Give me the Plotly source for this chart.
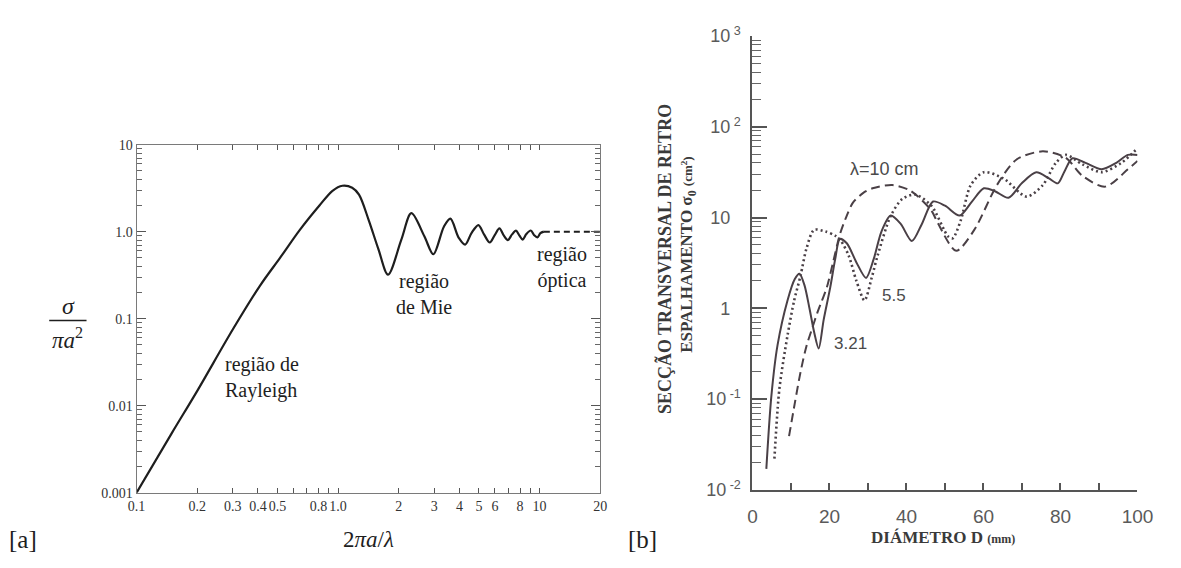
import plotly.graph_objects as go

# ---------------- (a) normalised radar cross-section of a sphere ----------------
ka = [0.1, 0.15, 0.2, 0.3, 0.41, 0.515, 0.646, 0.808, 0.938, 1.05, 1.175, 1.27,
      1.42, 1.585, 1.77, 2.06, 2.31, 2.68, 2.97, 3.35, 3.61, 3.97, 4.27, 4.6,
      4.97, 5.3, 5.66, 6.0, 6.32, 6.65, 6.96, 7.3, 7.64, 7.95, 8.24, 8.6, 9.04,
      9.4, 9.75, 10.1, 10.5]
sigma_norm = [0.001, 0.0049, 0.0148, 0.075, 0.24, 0.5, 1.05, 2.0, 2.95, 3.37,
              3.2, 2.66, 1.35, 0.63, 0.32, 0.81, 1.63, 0.885, 0.55, 1.14, 1.41,
              0.85, 0.71, 0.97, 1.19, 0.93, 0.75, 0.92, 1.09, 0.9, 0.80, 0.93,
              1.03, 0.9, 0.81, 0.94, 1.03, 0.91, 0.86, 0.96, 1.0]
ka_optical = [10.5, 20.0]
sigma_optical = [1.0, 1.0]

xa_ticks = [0.1, 0.2, 0.3, 0.4, 0.5, 0.8, 1.0, 2, 3, 4, 5, 6, 8, 10, 20]
xa_text = ["0.1", "0.2", "0.3", "0.4", "0.5", "0.8", "1.0",
           "2", "3", "4", "5", "6", "8", "10", "20"]
xa_unlabelled = [0.6, 0.7, 0.9, 7, 9]
ya_ticks = [0.001, 0.01, 0.1, 1.0, 10.0]
ya_text = ["0.001", "0.01", "0.1", "1.0", "10"]

# ---------------- (b) backscatter cross-section of raindrops ----------------
d_321 = [3.6, 4.9, 6.5, 9.1, 11.0, 12.2, 13.5, 14.8, 16.0, 17.2, 18.5, 20.2,
         21.5, 22.7, 24.5, 27.0, 29.5, 31.5, 33.5, 35.9, 38.5, 41.4, 44.0, 46.9,
         50.0, 53.8, 57.0, 60.1, 63.0, 66.5, 70.0, 73.7, 77.0, 79.3, 81.0, 83.1,
         86.5, 90.7, 94.5, 97.5, 100.0]
s_321 = [0.017, 0.107, 0.39, 1.22, 2.1, 2.4, 1.8, 1.0, 0.55, 0.36, 0.75, 1.7,
         3.5, 5.8, 5.2, 3.2, 2.16, 3.5, 7.0, 10.5, 8.5, 5.5, 8.5, 15.0,
         13.5, 10.5, 15.0, 21.0, 19.5, 16.5, 24.0, 31.5, 27.0, 23.8, 32.0, 45.0,
         40.0, 34.0, 40.0, 49.0, 49.0]

d_55 = [5.7, 7.0, 9.1, 10.8, 12.5, 14.0, 16.0, 19.0, 21.5, 23.0, 25.0, 27.0,
        29.1, 31.0, 32.5, 35.9, 38.9, 42.3, 46.5, 50.8, 52.0, 54.1, 56.7, 60.1,
        65.2, 71.2, 75.4, 78.8, 81.4, 85.6, 90.7, 95.8, 100.0]
s_55 = [0.022, 0.13, 0.5, 1.2, 2.3, 4.5, 7.3, 7.0, 6.3, 5.5, 3.8, 2.0,
        1.22, 2.2, 3.8, 10.4, 16.0, 17.9, 13.4, 6.2, 5.9, 9.3, 22.8, 31.6,
        26.9, 17.0, 22.8, 40.0, 49.0, 38.7, 31.6, 40.0, 58.0]

d_10 = [9.5, 11.0, 12.5, 14.0, 15.5, 16.8, 18.0, 19.3, 21.0, 22.7, 24.5, 26.1,
        28.7, 31.2, 36.3, 40.6, 43.0, 46.5, 48.2, 52.9, 57.6, 63.5, 68.6, 75.4,
        81.4, 85.6, 91.6, 97.5, 100.0]
s_10 = [0.039, 0.09, 0.2, 0.38, 0.6, 0.88, 1.2, 1.69, 3.3, 6.5, 10.5, 14.6,
        18.6, 21.0, 22.8, 20.2, 17.0, 11.9, 8.6, 4.3, 7.3, 22.8, 43.6, 53.6,
        45.5, 29.0, 21.9, 34.0, 42.0]

xb_ticks = [0, 20, 40, 60, 80, 100]
xb_text = ["0", "20", "40", "60", "80", "100"]
xb_unlabelled = [10, 30, 50, 70, 90]
yb_ticks = [0.01, 0.1, 1, 10, 100, 1000]
yb_text = ["10<sup>\u00a0-2</sup>", "10<sup>\u00a0-1</sup>",
           "1<sup>\u00a0\u00a0\u00a0</sup>", "10<sup>\u00a0\u00a0\u00a0</sup>",
           "10<sup>\u00a02</sup>", "10<sup>\u00a03</sup>"]


def minor_log(lo, hi):
    vals = []
    for e in range(lo, hi):
        for m in range(2, 10):
            vals.append(m * 10.0 ** e)
    return vals


W, H = 1181, 568
SERIF = "Liberation Serif"
SANS = "Liberation Sans"
INK_A = "#1e1e1e"
INK_B = "#4a4046"

fig = go.Figure()

fig.add_trace(go.Scatter(
    x=ka, y=sigma_norm, mode="lines", xaxis="x", yaxis="y",
    line=dict(color=INK_A, width=2.2, shape="spline", smoothing=0.9),
    hoverinfo="skip"))
fig.add_trace(go.Scatter(
    x=ka_optical, y=sigma_optical, mode="lines", xaxis="x", yaxis="y",
    line=dict(color=INK_A, width=2, dash="6px,4px"), hoverinfo="skip"))

fig.add_trace(go.Scatter(
    x=d_321, y=s_321, mode="lines", xaxis="x2", yaxis="y2",
    line=dict(color=INK_B, width=2, shape="spline", smoothing=0.8),
    hoverinfo="skip"))
fig.add_trace(go.Scatter(
    x=d_55, y=s_55, mode="lines", xaxis="x2", yaxis="y2",
    line=dict(color=INK_B, width=2.6, shape="spline", smoothing=0.8,
              dash="2px,3px"),
    hoverinfo="skip"))
fig.add_trace(go.Scatter(
    x=d_10, y=s_10, mode="lines", xaxis="x2", yaxis="y2",
    line=dict(color=INK_B, width=2, shape="spline", smoothing=0.8,
              dash="9px,5px"),
    hoverinfo="skip"))

axis_a = dict(showgrid=False, zeroline=False, showline=True, linecolor="#7a7a7a",
              linewidth=1.2, mirror="ticks", ticks="inside", tickcolor="#555",
              tickwidth=1, tickfont=dict(family=SERIF, size=14, color="#333"))

fig.update_layout(
    width=W, height=H, margin=dict(l=0, r=0, t=0, b=0),
    paper_bgcolor="white", plot_bgcolor="white", showlegend=False,
    xaxis=dict(axis_a, type="log", range=[-1, 1.30103],
               domain=[134 / W, 606 / W], anchor="y",
               tickmode="array", tickvals=xa_ticks, ticktext=xa_text, ticklen=5,
               minor=dict(tickmode="array", tickvals=xa_unlabelled, ticklen=5,
                          ticks="inside", tickcolor="#555", tickwidth=1)),
    yaxis=dict(axis_a, type="log", range=[-3, 1],
               domain=[1 - 500 / H, 1 - 138 / H], anchor="x",
               tickmode="array", tickvals=ya_ticks, ticktext=ya_text, ticklen=9,
               minor=dict(tickmode="array", tickvals=minor_log(-3, 1),
                          ticklen=5, ticks="inside", tickcolor="#666")),
    xaxis2=dict(type="linear", range=[0, 100], domain=[761 / W, 1153 / W],
                anchor="y2", showgrid=False, zeroline=False, showline=True,
                linecolor="#555", linewidth=2, ticks="inside", ticklen=7,
                tickwidth=2, tickcolor="#555", tickmode="array",
                tickvals=xb_ticks, ticktext=xb_text, ticklabelstandoff=8,
                tickfont=dict(family=SANS, size=19, color="#5a5a5a"),
                minor=dict(tickmode="array", tickvals=xb_unlabelled, ticklen=7,
                           ticks="inside", tickcolor="#555", tickwidth=2)),
    yaxis2=dict(type="log", range=[-2, 3], domain=[1 - 497 / H, 1 - 25 / H],
                anchor="x2", showgrid=False, zeroline=False, showline=True,
                linecolor="#555", linewidth=2, ticks="inside", ticklen=15,
                tickwidth=1.6, tickcolor="#555", tickmode="array",
                tickvals=yb_ticks, ticktext=yb_text, ticklabelstandoff=6,
                tickfont=dict(family=SANS, size=18, color="#5a5a5a"),
                minor=dict(tickmode="array", tickvals=minor_log(-2, 3),
                           ticklen=9, ticks="inside", tickcolor="#666",
                           tickwidth=1.3)),
)

ann = []


def note(text, x, y, size, family=SERIF, color=INK_A, xanchor="center",
         yanchor="middle", align="center", angle=0, xref="paper", yref="paper"):
    ann.append(dict(text=text, x=x, y=y, xref=xref, yref=yref, showarrow=False,
                    xanchor=xanchor, yanchor=yanchor, align=align,
                    textangle=angle, font=dict(family=family, size=size,
                                               color=color)))


# region labels of panel (a), in axis coordinates (log10 for log axes)
note("região de<br>Rayleigh", -0.571, -1.674, 20, xanchor="left", align="left",
     xref="x", yref="y")
note("região<br>de Mie", 0.424, -0.713, 20, xref="x", yref="y")
note("região<br>óptica", 1.112, -0.41, 20, xref="x", yref="y")

# axis titles of panel (a)
note("<i>σ</i>", 65 / W, 1 - 306 / H, 24)
note("<i>πa</i><sup>2</sup>", 64 / W, 1 - 340 / H, 23)
note("2<i>πa</i>/<i>λ</i>", 370 / W, 1 - 549 / H, 23)
note("[a]", 2 / W, 1 - 549 / H, 25, xanchor="left")

# curve labels of panel (b)
note("λ=10 cm", 34.4, 1.538, 18, family=SANS, color="#4a4a4a",
     xref="x2", yref="y2")
note("5.5", 36.8, 0.14, 17, family=SANS, color="#4a4a4a", xref="x2", yref="y2")
note("3.21", 25.4, -0.39, 17, family=SANS, color="#4a4a4a",
     xref="x2", yref="y2")

# axis titles of panel (b)
note("<b>DIÁMETRO D</b> <b><span style='font-size:12px'>(mm)</span></b>",
     955 / W, 1 - 547 / H, 17, color="#3a3a3a")
note("<b>SECÇÃO TRANSVERSAL DE RETRO</b>", 671 / W, 1 - 257 / H, 18,
     color="#3a3a3a", angle=-90)
note("<b>ESPALHAMENTO σ<sub>0</sub> <span style='font-size:13px'>(cm<sup>2</sup>)</span></b>",
     696 / W, 1 - 253 / H, 17, color="#3a3a3a", angle=-90)
note("[b]", 632 / W, 1 - 549 / H, 25, xanchor="left")

fig.update_layout(annotations=ann)

# fraction bar of the σ/πa² label
fig.add_shape(type="line", xref="paper", yref="paper",
              x0=45 / W, x1=83 / W, y0=1 - 321 / H, y1=1 - 321 / H,
              line=dict(color=INK_A, width=1.6))

fig.write_html("out.html")
